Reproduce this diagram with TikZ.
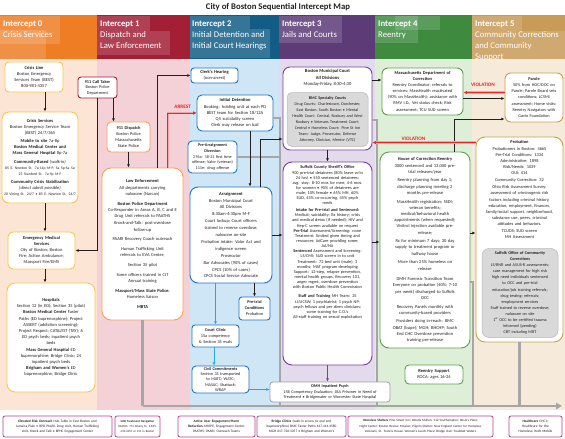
\documentclass[tikz,border=0pt]{standalone}
\usepackage{fontspec}
\setmainfont{Carlito}
\usetikzlibrary{arrows.meta,calc}
\newcommand\fsz[2]{\fontsize{#1}{#2}\selectfont}
\definecolor{hOr}{HTML}{EE7D24}
\definecolor{hRd}{HTML}{A31F36}
\definecolor{hBl}{HTML}{125D86}
\definecolor{hPu}{HTML}{5C3B77}
\definecolor{hGr}{HTML}{3E8B3F}
\definecolor{hTn}{HTML}{C89B57}
\definecolor{bgOr}{HTML}{FCE5D5}
\definecolor{bgRd}{HTML}{F3D1D7}
\definecolor{bgBl}{HTML}{CFE6F6}
\definecolor{bgPu}{HTML}{E3DAEC}
\definecolor{bgGr}{HTML}{DEEFD8}
\definecolor{bgTn}{HTML}{F6EADA}
\definecolor{bYe}{HTML}{F8C74F}
\definecolor{bOr}{HTML}{F5A25A}
\definecolor{bRd}{HTML}{A31F36}
\definecolor{bBl}{HTML}{2474B8}
\definecolor{bPu}{HTML}{7B3F9E}
\definecolor{bGr}{HTML}{5C9F4D}
\definecolor{bTn}{HTML}{C9A14C}
\definecolor{bMg}{HTML}{B3438F}
\definecolor{aCy}{HTML}{25A9E0}
\definecolor{vRd}{HTML}{E5262C}
\definecolor{vPk}{HTML}{F4A3A6}
\definecolor{flowg}{HTML}{A6A6A6}
\definecolor{txtc}{HTML}{231F20}
\definecolor{inG}{HTML}{D9D9D9}
\definecolor{dmhb}{HTML}{A0A0A0}
\begin{document}
\begin{tikzpicture}[x=1pt,y=-1pt,
 bx/.style={draw=#1, fill=white, rounded corners=4pt, line width=0.9pt, inner sep=1pt, align=center, text=txtc},
 tn/.style={inner sep=0pt, align=center, text=txtc},
 arr/.style={draw=txtc, line width=0.75pt, -{Latex[length=3.2pt,width=3pt]}},
 carr/.style={draw=aCy, line width=0.9pt, -{Latex[length=3.2pt,width=3pt]}},
 parr/.style={draw=bPu, line width=0.9pt, -{Latex[length=3.2pt,width=3pt]}},
 halo/.style={draw=vPk, line width=#1},
 varr/.style={draw=vRd, line width=0.8pt, -{Latex[length=3.5pt,width=3.5pt]}},
 flow/.style={draw=flowg, line width=2.6pt},
 hdr/.style={anchor=north west, inner sep=0pt, align=left, text=white, font=\fsz{8.7}{11.2}},
 lg/.style={draw=bMg, fill=white, rounded corners=2pt, line width=0.8pt, inner sep=0.5pt, align=center, text=txtc, minimum height=21pt},
 lover/.style={fill=white, opacity=0.15}
]
\useasboundingbox (0,0) rectangle (565,439);
\fill[white] (0,0) rectangle (565,439);
% column backgrounds
\fill[bgOr] (0,59) rectangle (97,410);
\fill[bgRd] (97,59) rectangle (190,410);
\fill[bgBl] (190,59) rectangle (279,410);
\fill[bgPu] (279,59) rectangle (375,410);
\fill[bgGr] (375,59) rectangle (472,410);
\fill[bgTn] (472,59) rectangle (565,410);
% headers
\fill[hOr] (0,15) rectangle (97,59);
\fill[hRd] (97,15) rectangle (190,59);
\fill[hBl] (190,15) rectangle (279,59);
\fill[hPu] (279,15) rectangle (375,59);
\fill[hGr] (375,15) rectangle (472,59);
\fill[hTn] (472,15) rectangle (565,59);
\fill[lover] (0,16) rectangle (60,44);
\fill[lover] (0,30) rectangle (46,59);
\fill[lover] (97,16) rectangle (150,31);
\fill[lover] (97,31) rectangle (170,55);
\fill[lover] (190,16) rectangle (250,29);
\fill[lover] (190,29) rectangle (270,58);
\fill[lover] (279,16) rectangle (342,43);
\fill[lover] (375,16) rectangle (418,43);
\fill[lover] (395,16) rectangle (440,30);
\fill[lover] (472,16) rectangle (522,31);
\fill[lover] (472,31) rectangle (565,59);
\node[tn, font=\fsz{8.7}{10}\bfseries] (title) at (278,7.5) {City of Boston Sequential Intercept Map};
\node[hdr] (h0) at (3,20.5) {\textbf{Intercept 0}\\Crisis Services};
\node[hdr] (h1) at (100,20.5) {\textbf{Intercept 1}\\Dispatch and\\Law Enforcement};
\node[hdr] (h2) at (192,20.5) {\textbf{Intercept 2}\\Initial Detention and\\Initial Court Hearings};
\node[hdr] (h3) at (282,20.5) {\textbf{Intercept 3}\\Jails and Courts};
\node[hdr] (h4) at (378,20.5) {\textbf{Intercept 4}\\Reentry};
\node[hdr] (h5) at (475,20.5) {\textbf{Intercept 5}\\Community Corrections\\and Community\\Support};
% flow coordinates
\coordinate (flowL) at (143,406);
\coordinate (flowR) at (562,406);
\coordinate (gcol3) at (280,406);
\coordinate (gcol4) at (377,406);
\coordinate (gcol5) at (473,406);
% ---------- boxes
\node[bx=bYe, minimum width=58pt, minimum height=30pt, text width=55pt, font=\fsz{4.5}{6}] (crisisline) at (34,77)
 {\textbf{Crisis Line}\\Boston Emergency\\Services Team (BEST)\\800-981-4357};
\node[bx=bYe, rounded corners=7pt, minimum width=76pt, minimum height=91pt, text width=73pt, font=\fsz{4.5}{6}] (crisisserv) at (40,157.5)
 {\textbf{Crisis Services}\\Boston Emergency Service Team\\(BEST) 24/7/365\\[2.5pt]
 \textbf{Mobile to site} 7a-8p\\\textbf{Boston Medical Center and}\\\textbf{Mass General Hospital} 8p-7a\\[2.5pt]
 \textbf{Community-Based} \textit{(walk-in)}\\{\fsz{3.8}{5}85 E. Newton St. 7a-11p M-F; Sa 5p-Sa Su}\\{\fsz{3.8}{5}25 Stanford St. 7a-5p M-F}\\[2.5pt]
 \textbf{Community Crisis Stabilization}\\\textit{(direct admit possible)}\\{\fsz{3.8}{5}20 Vining St. 24/7 • 85 E. Newton St. 24/7}};
\node[bx=bYe, rounded corners=5pt, minimum width=67pt, minimum height=37pt, text width=64pt, font=\fsz{4.5}{6}] (ems) at (41.5,250.5)
 {\textbf{Emergency Medical}\\\textbf{Services}\\City of Boston; Boston\\Fire; Action Ambulance;\\Massport Fire/EMS};
\node[bx=bYe, rounded corners=8pt, minimum width=88pt, minimum height=109pt, text width=85pt, font=\fsz{4.5}{6.2}] (hospitals) at (51,337.5)
 {\textbf{Hospitals}\\Section 12 (in ED); Section 35 (pilot)\\\textbf{Boston Medical Center} Faster\\Paths (ED buprenorphine); Project\\ASSERT (addiction screening);\\Project Respect; CATALYST (TAY); 6\\ED psych beds; inpatient psych\\beds\\\textbf{Mass General Hospital} ED\\buprenorphine; Bridge Clinic; 24\\inpatient psych beds\\\textbf{Brigham and Women's} ED\\buprenorphine; Bridge Clinic};
% intercept 1
\node[bx=bRd, rounded corners=3pt, minimum width=39pt, minimum height=21pt, text width=37pt, font=\fsz{4.3}{5.6}] (calltaker) at (97.5,87.5)
 {\textbf{911 Call Taker}\\Boston Police\\Department};
\node[bx=bOr, rounded corners=4pt, minimum width=43pt, minimum height=30pt, text width=41pt, font=\fsz{4.4}{6}] (dispatch) at (128.5,137)
 {\textbf{911 Dispatch}\\Boston Police\\Massachusetts\\State Police};
\node[bx=bOr, rounded corners=9pt, minimum width=81pt, minimum height=152pt, text width=78pt, font=\fsz{4.5}{6.3}] (lawenf) at (142.5,244)
 {\textbf{Law Enforcement}\\All departments carrying\\naloxone (Narcan)\\[3.5pt]
 \textbf{Boston Police Department}\\Co-Responder in Areas A, B, C and E\\Drug Unit referrals to PAATHS\\[0.7pt]
 Knock-and-Talk: post-overdose\\follow-up\\[3.5pt]
 PAARI Recovery Coach outreach\\[3pt]
 Human Trafficking Unit\\referrals to EVA Center;\\[3.5pt]
 Section 35 pilot\\[3.5pt]
 Some officers trained in CIT\\Annual training\\[3.5pt]
 \textbf{Massport/Mass State Police:}\\Homeless liaison\\[3.5pt]
 \textbf{MBTA}};
% intercept 2
\node[bx=bBl, rounded corners=3pt, minimum width=47pt, minimum height=15pt, text width=45pt, font=\fsz{4.5}{5.8}] (clerk) at (214.5,75.5)
 {\textbf{Clerk's Hearing}\\(non-arrest)};
\node[bx=bBl, rounded corners=5pt, minimum width=76pt, minimum height=36pt, text width=73pt, font=\fsz{4.5}{6.2}] (initdet) at (235,113)
 {\textbf{Initial Detention}\\Booking: holding unit at each PD\\BEST team for Section 18/12A\\Q5 suicidality screen\\Clerk may release on bail};
\node[bx=bBl, rounded corners=4pt, minimum width=49pt, minimum height=32pt, text width=47pt, font=\fsz{4.2}{5.8}] (prearr) at (212.5,157)
 {\textbf{Pre-Arraignment}\\\textbf{Diversion}\\276a: 18-21 first time\\offense; Valor (veteran)\\111e: drug offense};
\node[bx=bBl, rounded corners=8pt, minimum width=82pt, minimum height=96pt, text width=79pt, font=\fsz{4.5}{6.6}] (arraign) at (231,235)
 {\textbf{Arraignment}\\Boston Municipal Court\\All Divisions\\8:30am-4:30pm M-F\\[1pt]
 Court lockup; Court officers\\trained to reverse overdose;\\naloxone on-site\\[1pt]
 Probation intake: Valor Act and\\indigence screen\\[1pt]
 Prosecutor\\Bar Advocates (90\% of cases)\\CPCS (10\% of cases)\\CPCS Social Service Advocate};
\node[bx=bBl, rounded corners=3pt, minimum width=31pt, minimum height=23pt, text width=29pt, font=\fsz{4.3}{6}] (pretrial) at (254.5,308.5)
 {\textbf{Pre-trial}\\\textbf{Conditions}\\Probation};
\node[bx=bBl, rounded corners=3pt, minimum width=47pt, minimum height=22pt, text width=45pt, font=\fsz{4.3}{5.8}] (clinic) at (215.5,336)
 {\textbf{Court Clinic}\\15a competency\\\& Section 35 evals};
\node[bx=bBl, rounded corners=4pt, minimum width=57pt, minimum height=27pt, text width=55pt, font=\fsz{4.2}{5.2}] (civil) at (220.5,379.5)
 {\textbf{Civil Commitments}\\Section 35 transported\\to MATC; WATC;\\MASAC; Shattuck;\\WRAP};
% intercept 3
\node[bx=bPu, rounded corners=7pt, minimum width=89pt, minimum height=83pt] (bmc) at (327.5,108.5) {};
\node[tn, anchor=north, font=\fsz{4.6}{6.3}] (bmctxt) at ([yshift=-3pt]bmc.north)
 {\textbf{Boston Municipal Court}\\\textbf{All Divisions}\\Monday-Friday, 8:30-4:30};
\node[draw=gray!55, fill=inG, rounded corners=5pt, line width=0.5pt, inner sep=1pt, align=center, text=txtc, minimum width=81pt, minimum height=54pt, text width=79pt, font=\fsz{4.1}{6.1}] (bmcinner) at (327.5,119.5)
 {\textbf{BMC Specialty Courts}\\Drug Courts: Charlestown, Dorchester,\\East Boston, South Boston • Mental\\Health Court: Central, Roxbury and West\\Roxbury • Veterans Treatment Court:\\Central • Homeless Court: Pine St Inn\\Team: Judge, Prosecutor, Defense\\Attorney, Clinician, Mentor (VTC)};
\node[bx=bPu, rounded corners=9pt, minimum width=89pt, minimum height=203pt] (sheriff) at (327.5,263.5) {};
\node[tn, anchor=north, text width=86pt, font=\fsz{4.3}{5.15}] (sherifftxt) at ([yshift=-4pt]sheriff.north)
 {\textbf{Suffolk County Sheriff's Office}\\
 900 pre-trial detainees (80\% leave w/in\\
 24 hrs) • 550 sentenced detainees;\\
 avg. stay: 8-10 mos for men; 4-6 mos.\\
 for women • 90\% of detainees are\\
 male; 10\% female • 65\% MH, 60\%\\
 SUD, 45\% co-occurring, 45\% psych\\
 meds\\[1.5pt]
 \textbf{Intake for Pre-trial and Sentenced:}\\
 Medical; suicidality; Rx history; crisis\\
 and medical detox (if needed); HIV and\\
 Hep-C screen available on request\\
 \textbf{Pre-Trial} Assessment/Screening: none\\
 Treatment: limited given timing and\\
 resources; AdCare providing some;\\
 AA/NA\\
 \textbf{Sentenced} Assessment and Screening:\\
 LS/CMI; SUD screen in to unit\\
 Treatment: 72 bed unit (male), 3\\
 months; MAT program developing\\
 Support: 12-step, relapse prevention,\\
 mental health groups, Recovery 101,\\
 anger mgmt, overdose prevention\\
 with Boston Public Health Commission\\[4pt]
 \textbf{Staff and Training} MH Team: 25\\
 LI/LICSW; 1 psychiatrist; 1 psych NP;\\
 psych fellows and per diem clinicians;\\
 some training for C.O.'s\\
 All-staff training on sexual exploitation};
% intercept 4
\node[bx=bGr, rounded corners=6pt, minimum width=81pt, minimum height=47pt, text width=78pt, font=\fsz{4.4}{6.1}] (doc) at (422.5,91.5)
 {\textbf{Massachusetts Department of}\\\textbf{Correction}\\Reentry Coordinator; referrals to\\services; MassHealth reactivated\\(90\% on MassHealth); assistance with\\RMV I.D., Vet status check; Risk\\assessment; TCU SUD screen};
\node[bx=bGr, rounded corners=9pt, minimum width=90pt, minimum height=196pt, text width=87pt, font=\fsz{4.5}{6.2}] (hoc) at (425,250)
 {\textbf{House of Correction Reentry}\\3000 sentenced and 13,000 pre-\\trial releases/year\\[2.5pt]
 Reentry planning from day 1;\\discharge planning meeting 2\\months pre-release\\[2.5pt]
 MassHealth registration; SSDI;\\veteran benefits;\\medical/behavioral health\\appointments (when requested);\\Vivitrol injection available pre-\\release;\\[2.5pt]
 Rx for minimum 7 days; 30 day\\supply to treatment program or\\halfway house\\[2.5pt]
 More than 25\% homeless on\\release\\[4.5pt]
 DMH Forensic Transition Team\\Everyone on probation (40\%; 7-10\\per week) discharged to Suffolk\\OCC\\[2.5pt]
 Recovery Panels monthly with\\community-based providers\\[2.5pt]
 Providers doing in-reach: BMC\\OBAT (bupe); MGH; BHCHP; South\\End CHC Overdose prevention\\training pre-release};
\node[bx=bGr, rounded corners=4pt, minimum width=58pt, minimum height=19pt, text width=56pt, font=\fsz{4.5}{6}] (reentry) at (434,374.5)
 {\textbf{Reentry Support}\\ROCA: ages 16-24};
% intercept 5
\node[bx=bTn, rounded corners=6pt, minimum width=58pt, minimum height=49pt, text width=56pt, font=\fsz{4.3}{6.2}] (parole) at (534,97.5)
 {\textbf{Parole}\\50\% from HOC/DOC on\\Parole; Parole Board sets\\conditions; LCSMI\\assessment; Home visits;\\Reentry Navigators with\\Gavin Foundation};
\node[bx=bTn, rounded corners=9pt, minimum width=87pt, minimum height=205pt] (probation) at (519.5,239.5) {};
\node[tn, anchor=north, text width=84pt, font=\fsz{4.4}{6.2}] (probtxt) at ([yshift=-4pt]probation.north)
 {\textbf{Probation}\\Probationers in Boston: 4665\\Pre-Trial Conditions: 1334\\Administrative: 1898\\Risk/Needs: 1039\\OUI: 414\\Community Correction: 32\\[1.5pt]
 Ohio Risk Assessment Survey:\\assessment of criminogenic risk\\factors including criminal history,\\education, employment, finances,\\family/social support, neighborhood,\\substance use, peers, criminal\\attitudes and behaviors.\\TCUDS: SUD screen\\MH Assessment};
\node[draw=gray!55, fill=inG, rounded corners=7pt, line width=0.5pt, inner sep=1pt, align=center, text=txtc, minimum width=76pt, minimum height=89pt, text width=74pt, font=\fsz{4.2}{6.1}] (occ) at (520,293)
 {\textbf{Suffolk Office of Community}\\\textbf{Corrections}\\LS/RNR and ASUS-R assessments;\\case management for high risk\\high need individuals sentenced\\to OCC and pre-trial\\education/job training referrals;\\drug testing; referrals;\\employment services\\Staff trained to reverse overdose;\\naloxone on site\\1\textsuperscript{st} OCC to be certified trauma\\informed (pending)\\CBT including MRT};
% ---------- flow lines (behind DMH)
\draw[flow] (lawenf.south) -- (lawenf.south |- flowL);
\draw[flow] ([yshift=-5pt]initdet.east) -| (gcol3);
\draw[flow] (prearr.east) -- (prearr.east -| gcol3);
\draw[flow] ([yshift=-11.5pt]bmc.east) -| (gcol4);
\draw[flow] ([yshift=-32pt]hoc.east) -| (gcol5);
\draw[flow] (probation.south) -- (probation.south |- flowR);
\draw[flow, -{Triangle[length=6pt,width=6.5pt]}] (flowL) -- (flowR);
\node[draw=dmhb, fill=white, rounded corners=3pt, line width=0.8pt, inner sep=1pt, align=center, text=txtc, minimum width=120pt, minimum height=20pt, text width=118pt, font=\fsz{4.2}{5.4}] (dmh) at (330,392)
 {\textbf{DMH Inpatient Psych}\\15B Competency Evaluation; 18A Prisoner in Need of\\Treatment • Bridgewater or Worcester State Hospital};
% ---------- connectors
\draw[arr] ([xshift=11pt]crisisline.south) -- ([xshift=11pt]crisisline.south |- crisisserv.north);
\draw[arr] ([xshift=5pt]crisisserv.south) -- ([xshift=5pt]crisisserv.south |- ems.north);
\draw[arr] ([xshift=3.5pt]ems.south) -- ([xshift=3.5pt]ems.south |- hospitals.north);
\draw[arr] (calltaker.south) |- (ems.east);
\draw[arr] ([xshift=-4pt]calltaker.south east) coordinate (ct1) -- (ct1 |- dispatch.north);
\draw[arr] (dispatch.south) -- (dispatch.south |- lawenf.north);
\draw[arr] ([xshift=15pt]lawenf.north) |- (clerk.west);
\draw[halo=2pt] ([xshift=25pt]lawenf.north) |- ([xshift=-3pt]initdet.west);
\draw[varr, line width=0.6pt] ([xshift=25pt]lawenf.north) |- (initdet.west)
  node[pos=0.76, above=0.6pt, font=\fsz{5.2}{6}\bfseries, text=vRd] (arrestlbl) {ARREST};
\draw[arr] ([xshift=15pt]initdet.south) -- ([xshift=15pt]initdet.south |- arraign.north);
\draw[arr] ([xshift=29pt]arraign.north) |- ([yshift=-30.5pt]bmc.west);
\draw[arr] (arraign.east) -- (arraign.east -| sheriff.west);
\draw[arr] (pretrial.north |- arraign.south) -- (pretrial.north);
\draw[carr] (clinic.north |- arraign.south) -- (clinic.north);
\draw[carr] ([xshift=-1.5pt]clinic.south) -- ([xshift=-1.5pt]clinic.south |- civil.north);
\draw[carr] ([yshift=-10pt]civil.east) coordinate (cv1) -- (cv1 -| dmh.west);
\draw[arr] (bmc.south) -- (sheriff.north);
\draw[parr] (sheriff.south) -- (sheriff.south |- dmh.north);
\draw[arr] ([yshift=28.5pt]bmc.east) coordinate (bm1) -- (bm1 -| doc.west);
\draw[arr] ([yshift=21.5pt]sheriff.east) coordinate (sh1) -- (sh1 -| hoc.west);
\draw[arr] ([yshift=17pt]hoc.east) coordinate (hc1) -- (hc1 -| probation.west);
\draw[arr] ([yshift=-7pt]doc.east) coordinate (dc1) -- (dc1 -| parole.west);
\draw[arr] ([xshift=29pt]hoc.north) |- ([yshift=-21.5pt]parole.west);
% violation lines
\draw[halo=2.6pt] ([yshift=5pt]parole.west) coordinate (pv1) -- ([xshift=4pt]pv1 -| doc.east);
\draw[varr] (pv1) -- (pv1 -| doc.east);
\node[font=\fsz{5.2}{6}\bfseries, text=vRd, inner sep=0pt] (viol1) at (483,84.5) {VIOLATION};
\draw[halo=2.6pt] ([yshift=-6pt]probation.north west) coordinate (prv) -- ([xshift=4pt]prv -| bmc.east);
\draw[varr] (prv) -- (prv -| bmc.east);
\node[font=\fsz{5.2}{6}\bfseries, text=vRd, inner sep=0pt] (viol2) at (413.5,138.5) {VIOLATION};
% ---------- legend row
\node[lg, minimum width=109pt, text width=106pt, font=\fsz{3.5}{5.4}] (lg1) at (57.5,426.5)
 {\textbf{Elevated Risk Outreach} Hub Table in East Boston and\\Jamaica Plain • BPD PAARI, Drug Unit, Human Trafficking\\Unit, Knock and Talk • BPHC Engagement Center};
\node[lg, minimum width=45pt, text width=44pt, font=\fsz{3.0}{5.4}] (lg2) at (137.5,426.5)
 {\textbf{SUD Treatment Navigation}\\PAATHS, 774 Albany St. 1-855-\\494-4057 or 311 in Boston};
\node[lg, minimum width=77pt, text width=75pt, font=\fsz{3.5}{5.4}] (lg3) at (216.5,426.5)
 {\textbf{Active User Engagement/Harm}\\\textbf{Reduction} AHOPE, Engagement Center,\\PAATHS; PAARI; Outreach Teams};
\node[lg, minimum width=89pt, text width=87pt, font=\fsz{3.5}{5.4}] (lg4) at (301.5,426.5)
 {\textbf{Bridge Clinics} (walk-in access to oral and\\buprenorphine) BMC Faster Paths 617.414.4580\\MGH 617-726-1057 • Brigham and Women's};
\node[lg, minimum width=145pt, text width=143pt, font=\fsz{3.3}{5.4}] (lg5) at (420.5,426.5)
 {\textbf{Homeless Shelters} Pine Street Inn; Woods Mullen; 112 Southampton; Rosie's Place;\\Night Center; Boston Rescue Mission; Pilgrim Shelter; New England Center for Homeless\\Veterans; St. Francis House; Women's Lunch Place; Bridge Over Troubled Waters};
\node[lg, minimum width=53pt, text width=51pt, font=\fsz{3.5}{5.4}] (lg6) at (535.5,426.5)
 {\textbf{Healthcare} CHC's;\\Healthcare for the\\Homeless; Kraft Mobile};
\end{tikzpicture}
\end{document}
